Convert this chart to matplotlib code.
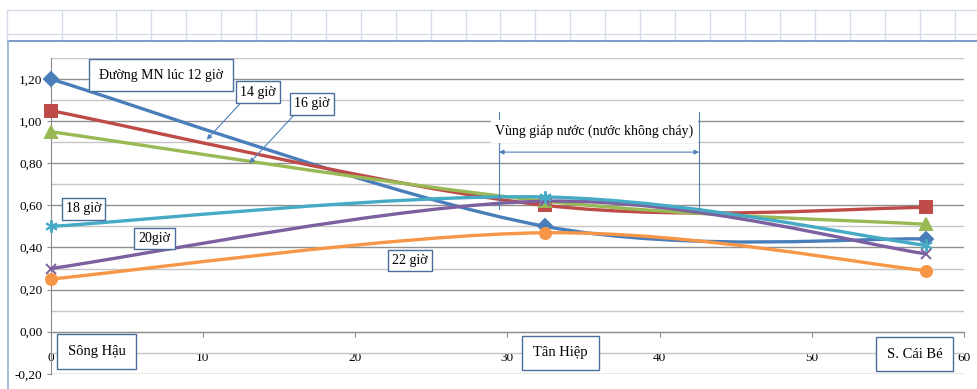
import numpy as np
import matplotlib
matplotlib.use("Agg")
import matplotlib.pyplot as plt
from matplotlib.path import Path
from matplotlib.patches import PathPatch
from matplotlib.lines import Line2D
from matplotlib.ticker import MultipleLocator

plt.rcParams["font.family"] = ["Liberation Serif", "DejaVu Serif"]

# distance along the canal (km) of the three stations
stations = ["Sông Hậu", "Tân Hiệp", "S. Cái Bé"]
distance = [0, 32.5, 57.5]

# water level at each station, one series per hour
hour_labels = ["Đường MN lúc 12 giờ", "14 giờ", "16 giờ", "18 giờ", "20giờ", "22 giờ"]
level_12h = [1.20, 0.50, 0.44]
level_14h = [1.05, 0.60, 0.59]
level_16h = [0.95, 0.62, 0.51]
level_18h = [0.50, 0.64, 0.41]
level_20h = [0.30, 0.62, 0.37]
level_22h = [0.25, 0.47, 0.29]

y_ticks = [-0.2, 0.0, 0.2, 0.4, 0.6, 0.8, 1.0, 1.2]
y_tick_labels = ["-0,20", "0,00", "0,20", "0,40", "0,60", "0,80", "1,00", "1,20"]
x_ticks = [0, 10, 20, 30, 40, 50, 60]

zone_text = "Vùng giáp nước (nước không cháy)"
zone_start, zone_end = 29.45, 42.6

W, H = 977, 389


def smooth_path(xs, ys):
    # Excel-style smoothed line: Catmull-Rom segments as cubic Beziers
    pts = np.column_stack([xs, ys]).astype(float)
    ext = np.vstack([pts[0], pts, pts[-1]])
    verts = [pts[0]]
    codes = [Path.MOVETO]
    for i in range(len(pts) - 1):
        p0, p1, p2, p3 = ext[i], ext[i + 1], ext[i + 2], ext[i + 3]
        verts += [p1 + (p2 - p0) / 6, p2 - (p3 - p1) / 6, p2]
        codes += [Path.CURVE4] * 3
    return Path(verts, codes)


fig = plt.figure(figsize=(W / 100, H / 100), dpi=100)
fig.patch.set_facecolor("white")

# worksheet cells above the chart object
cell_color = "#d6dce9"
for py in [10, 34]:
    fig.add_artist(Line2D([7 / W, 1], [1 - py / H, 1 - py / H], color=cell_color, lw=1.0))
col_edges = [7, 62] + [116 + 34.95 * k for k in range(25)]
for px in col_edges:
    fig.add_artist(Line2D([px / W, px / W], [1 - 10 / H, 1 - 41 / H], color=cell_color, lw=1.0))
# chart object border
fig.add_artist(Line2D([8 / W, 1], [1 - 41 / H, 1 - 41 / H], color="#6f93c5", lw=1.3))
fig.add_artist(Line2D([8 / W, 8 / W], [0, 1 - 41 / H], color="#9fb6d9", lw=1.3))

ax = fig.add_axes([50.7 / W, 1 - 373.8 / H, (964 - 50.7) / W, (373.8 - 58) / H])
ax.set_xlim(0, 60)
ax.set_ylim(-0.2, 1.3)

for side in ["top", "right"]:
    ax.spines[side].set_visible(False)
ax.spines["bottom"].set_position(("data", 0))
ax.spines["bottom"].set_color("#8c8c8c")
ax.spines["left"].set_color("#8c8c8c")

ax.set_yticks(y_ticks)
ax.set_yticklabels(y_tick_labels)
ax.yaxis.set_minor_locator(MultipleLocator(0.1))
ax.set_xticks(x_ticks)
ax.set_xticklabels([str(v) for v in x_ticks])
ax.tick_params(axis="y", which="major", length=3, color="#8c8c8c", labelsize=9.5, pad=3)
ax.tick_params(axis="y", which="minor", length=0)
ax.tick_params(axis="x", length=3.6, color="#8c8c8c", labelsize=9.5, pad=11)
ax.grid(axis="y", which="major", color="#8f8f8f", lw=1.0)
ax.grid(axis="y", which="minor", color="#c6c6c6", lw=1.0)
ax.set_axisbelow(True)

series = [
    (level_12h, "#4a7ebb", "D", 7),
    (level_14h, "#be4b48", "s", 8),
    (level_16h, "#98b954", "^", 8),
    (level_20h, "#7d60a0", "x", 7),
    (level_18h, "#46aac5", (6, 2, 0), 9),
    (level_22h, "#f79646", "o", 8),
]
for z, (vals, color, marker, ms) in enumerate(series):
    ax.add_patch(PathPatch(smooth_path(distance, vals), fill=False, ec=color,
                           lw=2.4, zorder=3 + z, capstyle="round", clip_on=False))
    ax.plot(distance, vals, ls="none", marker=marker, ms=ms, color=color,
            mec=color, mew=1.4, zorder=3 + z, clip_on=False)

box_color = "#4a6d9c"
arrow_color = "#4f81bd"


def label_box(x, y, text, pad, size=10):
    ax.text(x, y, text, ha="center", va="center", fontsize=size, zorder=20,
            bbox=dict(boxstyle=f"square,pad={pad}", fc="white", ec=box_color, lw=1.0))


# hour labels
label_box(7.24, 1.219, hour_labels[0], 0.7)
label_box(13.63, 1.138, hour_labels[1], 0.3)
label_box(17.17, 1.082, hour_labels[2], 0.3)
label_box(2.15, 0.583, hour_labels[3], 0.3)
label_box(6.82, 0.443, hour_labels[4], 0.3)
label_box(23.6, 0.338, hour_labels[5], 0.3)

# leader arrows for 14 h and 16 h
ax.annotate("", xy=(10.25, 0.912), xytext=(12.4, 1.08), zorder=19,
            arrowprops=dict(arrowstyle="-|>", color=arrow_color, lw=0.8,
                            mutation_scale=7, shrinkA=0, shrinkB=0))
ax.annotate("", xy=(13.05, 0.80), xytext=(16.0, 1.03), zorder=19,
            arrowprops=dict(arrowstyle="-|>", color=arrow_color, lw=0.8,
                            mutation_scale=7, shrinkA=0, shrinkB=0))

# station names along the axis
for x, y, name in zip([3.01, 33.5, 56.75], [-0.096, -0.101, -0.106], stations):
    label_box(x, y, name, 0.75, size=10.5)

# slack-water zone between the two fronts
for xz in [zone_start, zone_end]:
    ax.plot([xz, xz], [0.583, 1.044], color=arrow_color, lw=0.8, zorder=15)
ax.annotate("", xy=(zone_end, 0.853), xytext=(zone_start, 0.853), zorder=16,
            arrowprops=dict(arrowstyle="<|-|>", color=arrow_color, lw=0.8,
                            mutation_scale=7, shrinkA=0, shrinkB=0))
ax.text((zone_start + zone_end) / 2 - 0.3, 0.952, zone_text, ha="center", va="center",
        fontsize=10, zorder=16,
        bbox=dict(boxstyle="square,pad=0.35", fc="white", ec="none"))

fig.savefig("out.png", dpi=100)
